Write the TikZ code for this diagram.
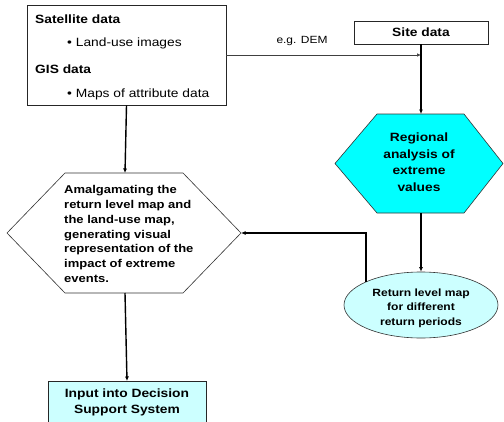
\documentclass[tikz,border=0pt]{standalone}
\usepackage{fontspec}
\setmainfont{Liberation Sans}[FakeStretch=1.15]
\usetikzlibrary{arrows.meta,shapes.geometric}
\definecolor{cyanA}{RGB}{0,255,255}
\definecolor{cyanB}{RGB}{204,255,255}
\tikzset{
  box/.style={draw=black!85, line width=0.7pt, inner sep=0pt},
  hexline/.style={draw=black!80, line width=0.6pt},
  conn/.style={draw=black, line width=1.4pt, -{Latex[length=4.5pt,width=4pt]}},
  thinconn/.style={draw=black!75, line width=0.6pt, -{Latex[length=4pt,width=3.5pt]}},
  bt/.style={font=\fontsize{12}{16.5}\selectfont\bfseries, inner sep=0pt},
  rt/.style={font=\fontsize{12}{16.5}\selectfont, inner sep=0pt},
  hext/.style={font=\fontsize{11.3}{14.7}\selectfont\bfseries, inner sep=0pt, align=left},
  ellt/.style={font=\fontsize{10.5}{14.5}\selectfont\bfseries, inner sep=0pt, align=center},
  smallt/.style={font=\fontsize{10.4}{12}\selectfont, inner sep=0pt}
}
\begin{document}
\begin{tikzpicture}[x=1pt,y=-1pt]
\clip (0,0) rectangle (504,421);
\fill[white] (0,0) rectangle (504,421);
% satellite / GIS box
\node[box, fill=white, minimum width=199pt, minimum height=100pt] (sat) at (126.5,55) {};
\node[bt, anchor=west] (satA) at (35,19) {Satellite data};
\node[rt, anchor=west] (satB) at (67,43) {• Land-use images};
\node[bt, anchor=west] (satC) at (35,69) {GIS data};
\node[rt, anchor=west] (satD) at (67,94) {• Maps of attribute data};
% site data
\node[box, fill=white, minimum width=134pt, minimum height=23pt, bt] (site) at (421,32.5) {Site data};
\node[smallt] (dem) at (302,41) {e.g. DEM};
\coordinate (join) at (421,55);
% regional hexagon
\coordinate (rhT) at (421,114);
\coordinate (rhB) at (421,213);
\draw[hexline, fill=cyanA] (377,114) -- (464,114) -- (503,163.5) -- (464,213) -- (377,213) -- (335,163.5) -- cycle;
\node[bt, align=center] (reg) at (419,162) {Regional\\analysis of\\extreme\\values};
% return level ellipse
\node[ellipse, draw=black!80, line width=0.6pt, fill=cyanB, minimum width=154pt, minimum height=66pt, inner sep=0pt] (ret) at (421,305) {};
\node[ellt] (retT) at (421,308) {Return level map\\for different\\return periods};
% left hexagon
\coordinate (lhT) at (125,173);
\coordinate (lhB) at (125,293);
\coordinate (lhR) at (241,233);
\draw[hexline, fill=white] (65,173) -- (183,173) -- (241,233) -- (183,293) -- (65,293) -- (7,233) -- cycle;
\node[hext, anchor=west] (amal) at (64,234) {Amalgamating the\\return level map and\\the land-use map,\\generating visual\\representation of the\\impact of extreme\\events.};
% input box
\node[box, fill=cyanB, minimum width=158pt, minimum height=50pt, anchor=north] (inp) at (127,381) {};
\node[bt, align=center] (inpT) at (127,402.5) {Input into Decision\\Support System};
% connectors
\draw[thinconn] (sat.east) -- (join);
\draw[conn] (site.south) -- (rhT);
\draw[conn] (rhB) -- (ret.north);
\draw[conn] (ret.157) |- (lhR);
\draw[conn] (sat.south) -- (lhT);
\draw[conn] (lhB) -- (inp.north);
\end{tikzpicture}
\end{document}
